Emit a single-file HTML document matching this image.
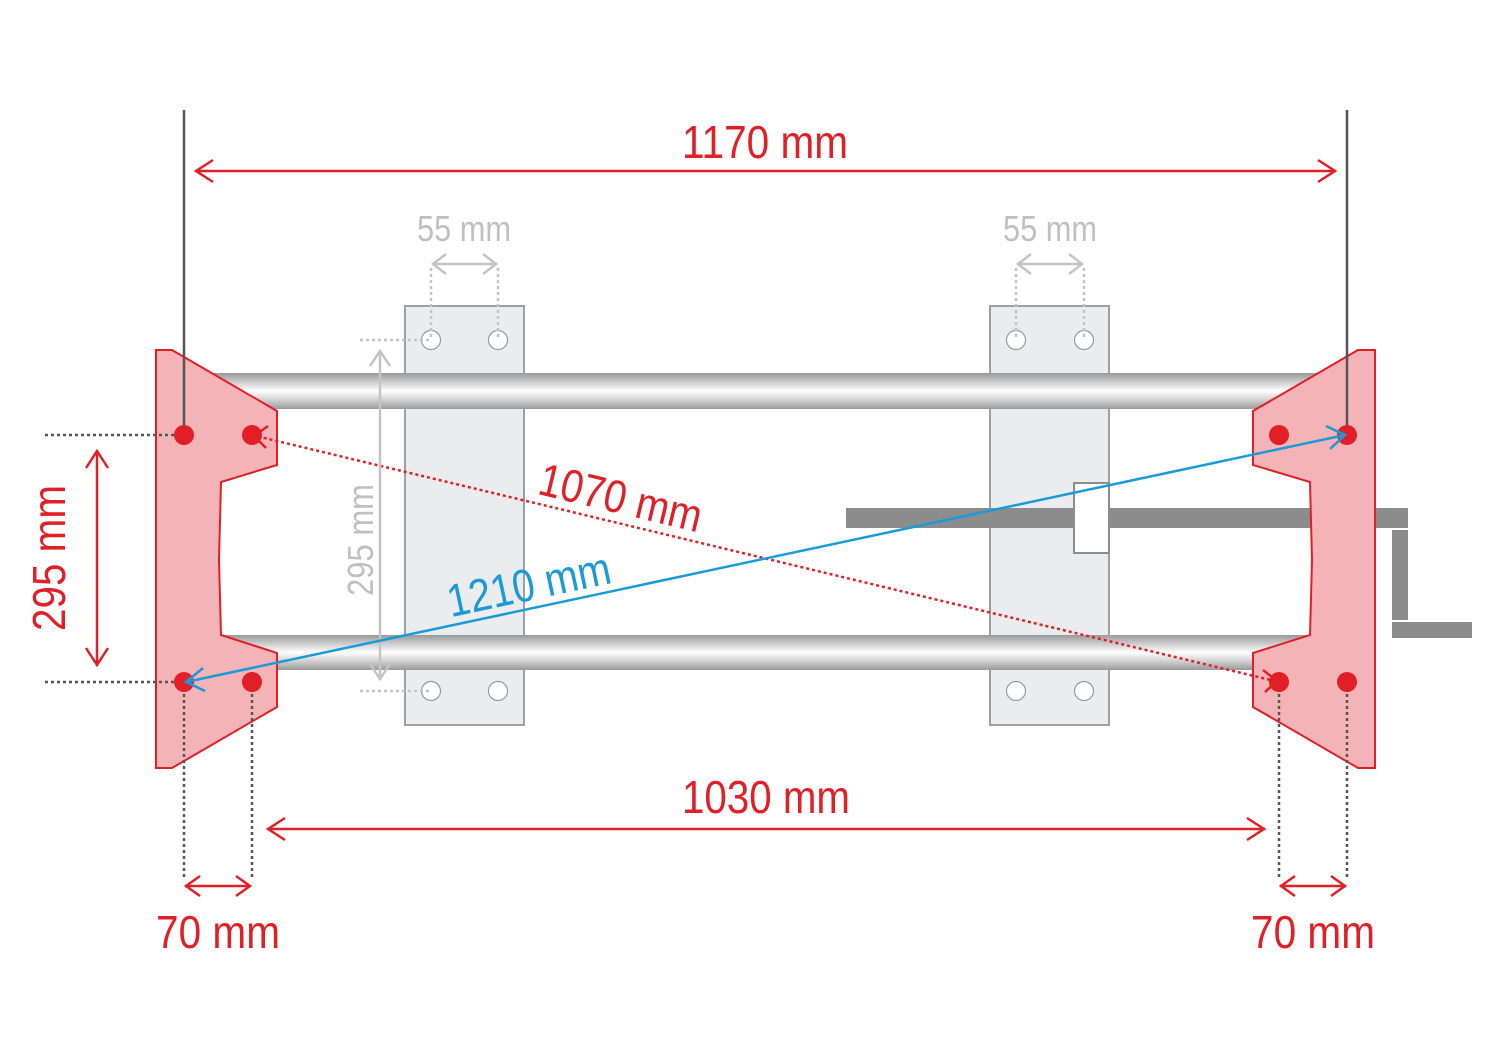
<!DOCTYPE html>
<html><head><meta charset="utf-8"><style>body{margin:0;background:#fff}svg{display:block}</style></head><body>
<svg width="1500" height="1060" viewBox="0 0 1500 1060" xmlns="http://www.w3.org/2000/svg" font-family="Liberation Sans, sans-serif">
<defs>
<linearGradient id="rod" x1="0" y1="0" x2="0" y2="1">
<stop offset="0" stop-color="#999"/><stop offset="0.25" stop-color="#ccc"/><stop offset="0.5" stop-color="#fff"/><stop offset="0.75" stop-color="#d0d0d0"/><stop offset="1" stop-color="#9a9a9a"/></linearGradient>
</defs>
<!-- plates -->
<rect x="405" y="306" width="119" height="419" fill="#ebeced" stroke="#a0a0a0" stroke-width="2"/>
<rect x="990" y="306" width="119" height="419" fill="#ebeced" stroke="#a0a0a0" stroke-width="2"/>
<g fill="#fff" stroke="#999" stroke-width="1.2">
<circle cx="431" cy="340" r="9.5"/><circle cx="498" cy="340" r="9.5"/><circle cx="431" cy="691" r="9.5"/><circle cx="498" cy="691" r="9.5"/>
<circle cx="1016" cy="340" r="9.5"/><circle cx="1084" cy="340" r="9.5"/><circle cx="1016" cy="691" r="9.5"/><circle cx="1084" cy="691" r="9.5"/>
</g>
<!-- rods -->
<rect x="200" y="373" width="1125" height="36" fill="url(#rod)"/>
<rect x="200" y="635" width="1125" height="35" fill="url(#rod)"/>
<!-- screw & crank -->
<rect x="846" y="508" width="562" height="20" fill="#8c8c8c"/>
<rect x="1074" y="483" width="35" height="70" fill="#fff" stroke="#8c8c8c" stroke-width="2"/>
<rect x="1392" y="530" width="16" height="90" fill="#8c8c8c"/>
<rect x="1392" y="622" width="80" height="16" fill="#8c8c8c"/>
<!-- brackets -->
<polygon points="156,350 172,350 277,411 277,465 221,482 219,560 221,635 277,653 277,707 172,768 156,768" fill="#f4b3b6" stroke="#e01f26" stroke-width="2"/>
<polygon points="1375,350 1358,350 1253,411 1253,465 1310,482 1312,560 1310,635 1253,653 1253,707 1358,768 1375,768" fill="#f4b3b6" stroke="#e01f26" stroke-width="2"/>
<!-- extension lines -->
<g stroke="#555" stroke-width="2.5"><line x1="184" y1="110" x2="184" y2="435"/><line x1="1347" y1="110" x2="1347" y2="435"/></g>
<g stroke="#555" stroke-width="2.5" stroke-dasharray="3 3">
<line x1="45" y1="435" x2="184" y2="435"/><line x1="45" y1="682" x2="184" y2="682"/>
<line x1="184" y1="682" x2="184" y2="880"/><line x1="252" y1="682" x2="252" y2="880"/>
<line x1="1279" y1="682" x2="1279" y2="880"/><line x1="1347" y1="682" x2="1347" y2="880"/>
</g>
<g stroke="#c4c4c4" stroke-width="2.5" stroke-dasharray="3 3">
<line x1="360" y1="340" x2="431" y2="340"/><line x1="360" y1="691" x2="431" y2="691"/>
<line x1="431" y1="268" x2="431" y2="340"/><line x1="498" y1="268" x2="498" y2="340"/>
<line x1="1016" y1="268" x2="1016" y2="340"/><line x1="1084" y1="268" x2="1084" y2="340"/>
</g>
<!-- dots -->
<g fill="#e01f26">
<circle cx="184" cy="435" r="10"/><circle cx="252" cy="435" r="10"/><circle cx="184" cy="682" r="10"/><circle cx="252" cy="682" r="10"/>
<circle cx="1279" cy="435" r="10"/><circle cx="1347" cy="435" r="10"/><circle cx="1279" cy="682" r="10"/><circle cx="1347" cy="682" r="10"/>
</g>
<!-- red dims -->
<g stroke="#e01f26" stroke-width="2.5" fill="none">
<line x1="195" y1="171" x2="1336" y2="171"/><polyline points="213,160 196,171 213,182"/><polyline points="1318,160 1335,171 1318,182"/>
<line x1="267" y1="829" x2="1265" y2="829"/><polyline points="285,818 268,829 285,840"/><polyline points="1247,818 1264,829 1247,840"/>
<line x1="185" y1="886" x2="251" y2="886"/><polyline points="200,876 186,886 200,896"/><polyline points="236,876 250,886 236,896"/>
<line x1="1280" y1="886" x2="1346" y2="886"/><polyline points="1295,876 1281,886 1295,896"/><polyline points="1331,876 1345,886 1331,896"/>
<line x1="97" y1="451" x2="97" y2="665"/><polyline points="86,468 97,451 108,468"/><polyline points="86,648 97,665 108,648"/>
<line x1="252" y1="435" x2="1279" y2="682" stroke-dasharray="3 3"/>
<polyline points="268,426 254,436 266,448"/><polyline points="1263,670 1277,681 1265,692"/>
</g>
<!-- gray dims -->
<g stroke="#c4c4c4" stroke-width="2.5" fill="none">
<line x1="380" y1="350" x2="380" y2="680"/><polyline points="370,366 380,351 390,366"/><polyline points="370,664 380,679 390,664"/>
<line x1="432" y1="264" x2="497" y2="264"/><polyline points="446,254 433,264 446,274"/><polyline points="483,254 496,264 483,274"/>
<line x1="1017" y1="264" x2="1083" y2="264"/><polyline points="1031,254 1018,264 1031,274"/><polyline points="1069,254 1082,264 1069,274"/>
</g>
<!-- blue -->
<g stroke="#1a9ad6" stroke-width="2.5" fill="none">
<line x1="186" y1="682" x2="1345" y2="435"/>
<polyline points="203,668 186,682 205,691"/><polyline points="1326,426 1345,435 1330,449"/>
</g>
<!-- texts -->
<g font-size="46" fill="#e01f26" text-anchor="middle">
<text x="765" y="158" textLength="166" lengthAdjust="spacingAndGlyphs">1170 mm</text>
<text x="766" y="813" textLength="168" lengthAdjust="spacingAndGlyphs">1030 mm</text>
<text x="218" y="948" textLength="124" lengthAdjust="spacingAndGlyphs">70 mm</text>
<text x="1313" y="948" textLength="124" lengthAdjust="spacingAndGlyphs">70 mm</text>
<text transform="translate(65,558) rotate(-90)" textLength="146" lengthAdjust="spacingAndGlyphs">295 mm</text>
<text transform="translate(617,513) rotate(13.5)" textLength="166" lengthAdjust="spacingAndGlyphs">1070 mm</text>
</g>
<text transform="translate(532,600) rotate(-12)" font-size="46" fill="#1a9ad6" text-anchor="middle" textLength="166" lengthAdjust="spacingAndGlyphs">1210 mm</text>
<g font-size="36" fill="#c0c0c0" text-anchor="middle">
<text x="464" y="241" textLength="94" lengthAdjust="spacingAndGlyphs">55 mm</text>
<text x="1050" y="241" textLength="94" lengthAdjust="spacingAndGlyphs">55 mm</text>
<text transform="translate(373,540) rotate(-90)" textLength="112" lengthAdjust="spacingAndGlyphs">295 mm</text>
</g>
</svg>
</body></html>
